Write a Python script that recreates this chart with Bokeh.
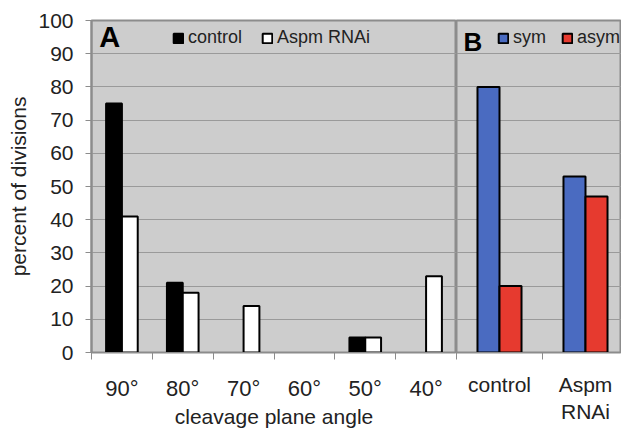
from bokeh.plotting import figure
from bokeh.layouts import row
from bokeh.models import Range1d, FixedTicker, Legend, LegendItem, Label, ColumnDataSource
from bokeh.embed import file_html
from bokeh.resources import INLINE

# ---------------- data ----------------
angles = ["90°", "80°", "70°", "60°", "50°", "40°"]
control_a = [75, 21, 0, 0, 4.5, 0]
aspm_a = [41, 18, 14, 0, 4.5, 23]

groups_b = ["control", "Aspm\nRNAi"]
sym_b = [80, 53]
asym_b = [20, 47]

y_ticks = list(range(0, 101, 10))

# ---------------- styles ----------------
FONT = "Liberation Sans"
BG = "#cdcdcd"
GRID = "#9a9a9a"
FRAME = "#8c8c8c"
BLUE = "#4a6bc1"
RED = "#e63a2f"
TXT = "#222222"


def base_fig(width, left):
    p = figure(width=width, height=430, output_backend="svg", toolbar_location=None,
               min_border_left=left, min_border_right=0, min_border_top=20,
               min_border_bottom=77, y_range=Range1d(0, 100))
    p.background_fill_color = BG
    p.border_fill_color = "white"
    p.outline_line_color = FRAME
    p.outline_line_width = 2
    p.xgrid.visible = False
    p.ygrid.ticker = FixedTicker(ticks=y_ticks)
    p.ygrid.grid_line_color = GRID
    p.ygrid.grid_line_width = 1
    return p


def style_xaxis(p, n, labels, size, standoff):
    centers = [i + 0.5 for i in range(n)]
    ax = p.xaxis[0]
    ax.ticker = FixedTicker(ticks=centers, minor_ticks=list(range(n + 1)))
    ax.major_label_overrides = {c: lab for c, lab in zip(centers, labels)}
    ax.major_tick_out = 0
    ax.major_tick_in = 0
    ax.minor_tick_out = 7
    ax.minor_tick_in = 0
    ax.minor_tick_line_color = FRAME
    ax.minor_tick_line_width = 1
    ax.axis_line_color = FRAME
    ax.axis_line_width = 1
    ax.major_label_standoff = standoff
    ax.major_label_text_font = FONT
    ax.major_label_text_font_size = size
    ax.major_label_text_color = TXT


# ---------------- panel A ----------------
pA = base_fig(456, 91)
pA.x_range = Range1d(0, 6)

xa = [i + 0.5 for i in range(len(angles))]
bw_a = 0.26
srcA_c = ColumnDataSource(dict(x=[x - bw_a / 2 for x, v in zip(xa, control_a) if v > 0],
                               top=[v for v in control_a if v > 0]))
srcA_r = ColumnDataSource(dict(x=[x + bw_a / 2 for x, v in zip(xa, aspm_a) if v > 0],
                               top=[v for v in aspm_a if v > 0]))
rc = pA.vbar(x="x", top="top", bottom=0, width=bw_a, source=srcA_c,
             fill_color="black", line_color="black", line_width=2)
rr = pA.vbar(x="x", top="top", bottom=0, width=bw_a, source=srcA_r,
             fill_color="white", line_color="black", line_width=2)

style_xaxis(pA, len(angles), angles, "22px", 16)
pA.xaxis.axis_label = "cleavage plane angle"
pA.xaxis.axis_label_text_font = FONT
pA.xaxis.axis_label_text_font_style = "normal"
pA.xaxis.axis_label_text_font_size = "21px"
pA.xaxis.axis_label_standoff = 1
pA.xaxis.axis_label_text_color = TXT

ay = pA.yaxis[0]
ay.ticker = FixedTicker(ticks=y_ticks)
ay.major_tick_out = 6
ay.major_tick_in = 0
ay.major_tick_line_color = FRAME
ay.axis_line_color = FRAME
ay.axis_line_width = 2
ay.major_label_standoff = 12
ay.major_label_text_font = FONT
ay.major_label_text_font_size = "21px"
ay.major_label_text_color = TXT
ay.axis_label = "percent of divisions"
ay.axis_label_text_font = FONT
ay.axis_label_text_font_style = "normal"
ay.axis_label_text_font_size = "21px"
ay.axis_label_standoff = 5
ay.axis_label_text_color = TXT

legA = Legend(items=[LegendItem(label="control", renderers=[rc]),
                     LegendItem(label="Aspm RNAi", renderers=[rr])],
              orientation="horizontal", location=(81, 304),
              background_fill_alpha=0, border_line_alpha=0, padding=0, margin=0,
              spacing=19, glyph_width=12, glyph_height=12, label_standoff=4,
              label_text_font=FONT, label_text_font_size="18px", label_height=20,
              label_text_color=TXT)
pA.add_layout(legA)
pA.add_layout(Label(x=0.3, y=95, text="A", text_font=FONT, text_font_style="bold",
                    text_font_size="29px", text_align="center", text_baseline="middle",
                    text_color="black"))

# ---------------- panel B ----------------
pB = base_fig(165, 0)
pB.x_range = Range1d(0, 165 / 86)
pB.yaxis.visible = False

xb = [i + 0.5 for i in range(len(groups_b))]
bw_b = 0.256
rs = pB.vbar(x=[x - bw_b / 2 for x in xb], top=sym_b, bottom=0, width=bw_b,
             fill_color=BLUE, line_color="black", line_width=2)
ras = pB.vbar(x=[x + bw_b / 2 for x in xb], top=asym_b, bottom=0, width=bw_b,
              fill_color=RED, line_color="black", line_width=2)
style_xaxis(pB, 2, groups_b, "21px", 13)

legB = Legend(items=[LegendItem(label="sym", renderers=[rs]),
                     LegendItem(label="asym", renderers=[ras])],
              orientation="horizontal", location=(41, 304),
              background_fill_alpha=0, border_line_alpha=0, padding=0, margin=0,
              spacing=15, glyph_width=12, glyph_height=12, label_standoff=4,
              label_text_font=FONT, label_text_font_size="18px", label_height=20,
              label_text_color=TXT)
pB.add_layout(legB)
pB.add_layout(Label(x=0.19, y=93.5, text="B", text_font=FONT, text_font_style="bold",
                    text_font_size="26px", text_align="center", text_baseline="middle",
                    text_color="black"))

layout = row(pA, pB, spacing=0)
open("out.html", "w").write(file_html(layout, INLINE))
